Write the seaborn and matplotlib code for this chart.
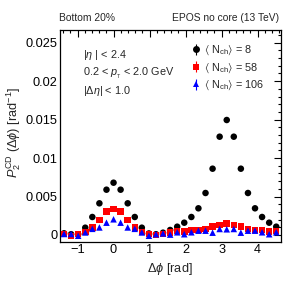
import numpy as np
import pandas as pd
import matplotlib
matplotlib.use("Agg")
import matplotlib.pyplot as plt
import seaborn as sns
from matplotlib.ticker import MultipleLocator, AutoMinorLocator, FuncFormatter

# Δφ bin centres (k*π/16, k = -7 .. 23)
dphi = [-1.374, -1.178, -0.982, -0.785, -0.589, -0.393, -0.196, 0.000,
        0.196, 0.393, 0.589, 0.785, 0.982, 1.178, 1.374, 1.571,
        1.767, 1.963, 2.160, 2.356, 2.553, 2.749, 2.945, 3.142,
        3.338, 3.534, 3.731, 3.927, 4.123, 4.320, 4.516]

n8 = [0.00022, 0.00010, 0.00010, 0.00095, 0.00234, 0.00412, 0.00589, 0.00680,
      0.00589, 0.00412, 0.00234, 0.00095, 0.00020, 0.00010, 0.00030, 0.00065,
      0.00108, 0.00160, 0.00234, 0.00347, 0.00546, 0.00862, 0.01278, 0.01495,
      0.01278, 0.00862, 0.00546, 0.00347, 0.00234, 0.00160, 0.00108]

n58 = [0.00010, -0.00010, 0.00010, 0.00039, 0.00095, 0.00195, 0.00303, 0.00338,
       0.00303, 0.00195, 0.00095, 0.00039, 0.00010, 0.00000, 0.00010, 0.00030,
       0.00050, 0.00043, 0.00065, 0.00065, 0.00078, 0.00108, 0.00130, 0.00152,
       0.00130, 0.00108, 0.00078, 0.00065, 0.00065, 0.00043, 0.00050]

n106 = [0.00013, 0.00013, -0.00010, 0.00033, 0.00080, 0.00098, 0.00160, 0.00204,
        0.00160, 0.00098, 0.00080, 0.00033, -0.00010, 0.00010, 0.00020, 0.00005,
        0.00035, 0.00010, 0.00035, 0.00056, 0.00056, 0.00030, 0.00078, 0.00074,
        0.00078, 0.00030, 0.00056, 0.00056, 0.00035, 0.00010, 0.00035]

series = ["8", "58", "106"]
labels = [r"$\langle\ \mathrm{N}_{\mathrm{ch}}\rangle$ = 8",
          r"$\langle\ \mathrm{N}_{\mathrm{ch}}\rangle$ = 58",
          r"$\langle\ \mathrm{N}_{\mathrm{ch}}\rangle$ = 106"]
colors = ["#000000", "#ff0000", "#0000ff"]
markers = ["o", "s", "^"]

df = pd.concat([
    pd.DataFrame({"dphi": dphi, "P2": vals, "nch": s})
    for s, vals in zip(series, [n8, n58, n106])
], ignore_index=True)

sns.set_theme(style="white")
plt.rcParams["font.family"] = ["Liberation Sans", "DejaVu Sans"]
plt.rcParams["mathtext.fontset"] = "custom"
plt.rcParams["mathtext.rm"] = "Liberation Sans"
plt.rcParams["mathtext.it"] = "Liberation Sans:italic"
plt.rcParams["mathtext.bf"] = "Liberation Sans:bold"
plt.rcParams["mathtext.fallback"] = "stixsans"

fig = plt.figure(figsize=(2.99, 2.88), dpi=100)
ax = fig.add_axes([0.2007, 0.1608, 0.7381, 0.7350])

sns.scatterplot(data=df, x="dphi", y="P2", hue="nch", style="nch",
                hue_order=series, style_order=series,
                palette=dict(zip(series, colors)),
                markers=dict(zip(series, markers)),
                s=22, linewidth=0, ax=ax, legend=False, zorder=3)

ax.set_xlim(-1.486, 4.64)
ax.set_ylim(-0.00087, 0.02665)

ax.xaxis.set_major_locator(MultipleLocator(1))
ax.xaxis.set_minor_locator(AutoMinorLocator(5))
ax.yaxis.set_major_locator(MultipleLocator(0.005))
ax.yaxis.set_minor_locator(MultipleLocator(0.001))
ax.yaxis.set_major_formatter(FuncFormatter(lambda v, p: "%g" % round(v, 4)))
ax.tick_params(which="both", direction="in", top=True, right=True,
               labelsize=9.2, colors="black", width=0.8)
ax.tick_params(which="major", length=5, pad=2)
ax.tick_params(which="minor", length=2.5)
for sp in ax.spines.values():
    sp.set_color("black")
    sp.set_linewidth(0.9)

ax.set_xlabel(r"$\Delta\phi$ [rad]", fontsize=9.2, labelpad=3)
ax.set_ylabel("")
fig.text(0.045, 0.54, r"$P_{2}^{\mathrm{CD}}$ ($\Delta\phi$) [rad$^{-1}$]",
         rotation=90, ha="center", va="center", fontsize=9.2)

fig.text(0.198, 0.937, "Bottom 20%", fontsize=7.4, ha="left", va="center")
fig.text(0.935, 0.937, "EPOS no core (13 TeV)", fontsize=7.4, ha="right", va="center")

ax.text(0.105, 0.882, r"|$\eta$ | < 2.4", transform=ax.transAxes, fontsize=7.8, va="center")
ax.text(0.105, 0.797, r"0.2 < $p_{_{\mathrm{T}}}$ < 2.0 GeV", transform=ax.transAxes, fontsize=7.8, va="center")
ax.text(0.105, 0.712, r"|$\Delta\eta$| < 1.0", transform=ax.transAxes, fontsize=7.8, va="center")

handles = []
for c, m, l in zip(colors, markers, labels):
    h = ax.errorbar([np.nan], [np.nan], yerr=[1.0], fmt=m, color=c, ms=5,
                    mew=0, elinewidth=0.8, capsize=1.2, label=l)
    handles.append(h)
ax.legend(handles=handles, loc="upper left", bbox_to_anchor=(0.59, 0.935),
          frameon=False, fontsize=7.8, handlelength=1.0, handletextpad=0.3,
          labelspacing=0.38, borderaxespad=0, borderpad=0)

fig.savefig("out.png", dpi=100)
